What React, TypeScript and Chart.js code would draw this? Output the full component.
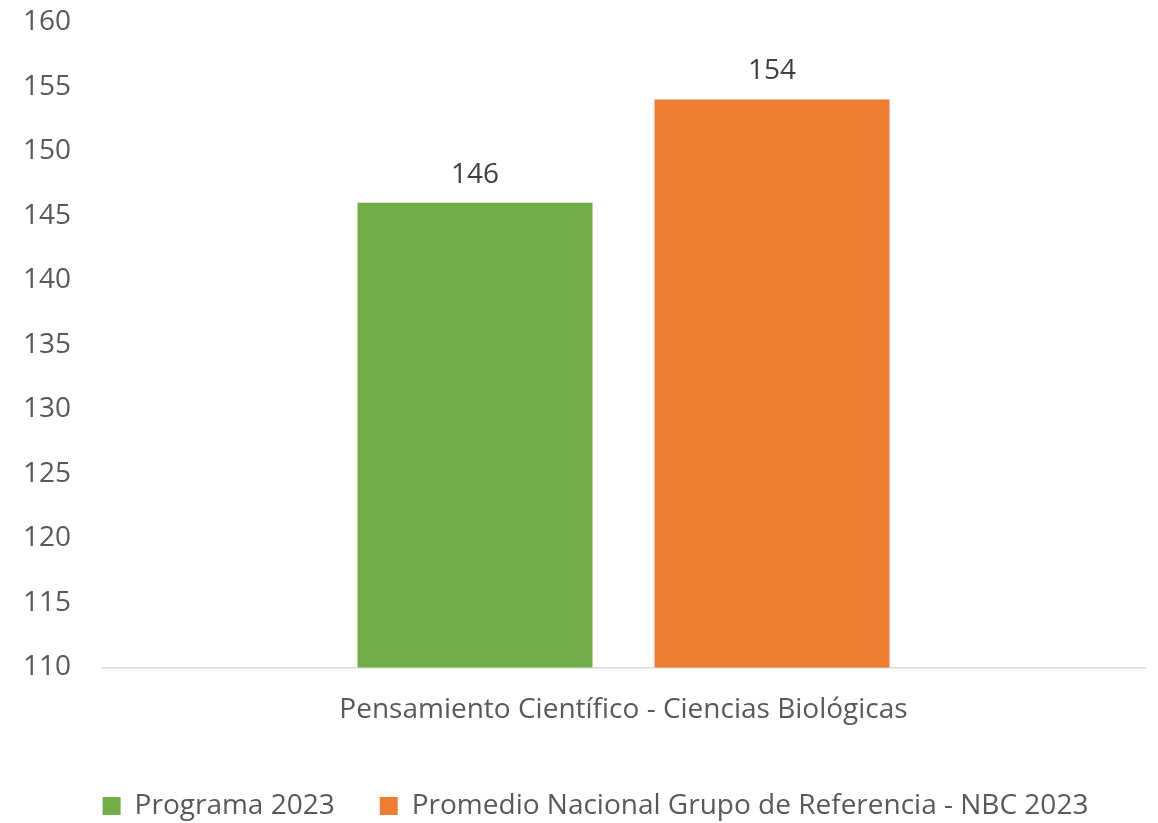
import React, { useEffect, useRef } from "react";
import { Chart, registerables } from "chart.js";

Chart.register(...registerables);

const categories = ["Pensamiento Científico - Ciencias Biológicas"];
const seriesNames = ["Programa 2023", "Promedio Nacional Grupo de Referencia - NBC 2023"];
const programaValues = [146];
const promedioValues = [154];
const seriesColors = ["#70AD47", "#ED7D31"];
const yMin = 110;
const yMax = 160;
const yStep = 5;

const FONT = "'Open Sans', 'Noto Sans', sans-serif";
const FS = 28;
const W = 1158;
const H = 830;

const valueLabels = {
  id: "valueLabels",
  afterDatasetsDraw(chart: any) {
    const ctx = chart.ctx;
    ctx.save();
    ctx.font = `${FS}px ${FONT}`;
    ctx.fillStyle = "#404040";
    ctx.textAlign = "center";
    ctx.textBaseline = "alphabetic";
    chart.data.datasets.forEach((ds: any, di: number) => {
      const meta = chart.getDatasetMeta(di);
      meta.data.forEach((bar: any, i: number) => {
        ctx.fillText(String(ds.data[i]), bar.x, bar.y - 20);
      });
    });
    ctx.restore();
  },
};

const legendShift = {
  id: "legendShift",
  afterLayout(chart: any) {
    const lg = chart.legend;
    if (lg) {
      lg.left += 12;
      lg.right += 12;
    }
  },
};

export default function App() {
  const ref = useRef<HTMLCanvasElement | null>(null);
  useEffect(() => {
    if (!ref.current) return;
    const layoutLeft = 22;
    const chart = new Chart(ref.current, {
      type: "bar",
      data: {
        labels: categories,
        datasets: [
          {
            label: seriesNames[0],
            data: programaValues,
            backgroundColor: seriesColors[0],
            categoryPercentage: 0.5695,
            barPercentage: 0.7912,
          },
          {
            label: seriesNames[1],
            data: promedioValues,
            backgroundColor: seriesColors[1],
            categoryPercentage: 0.5695,
            barPercentage: 0.7912,
          },
        ],
      },
      options: {
        responsive: false,
        animation: false,
        devicePixelRatio: 1,
        layout: { padding: { top: 22, left: layoutLeft, right: 13, bottom: 0 } },
        plugins: {
          tooltip: { enabled: false },
          legend: {
            position: "bottom",
            labels: {
              boxWidth: 18,
              boxHeight: 18,
              padding: 45,
              color: "#595959",
              font: { family: FONT, size: FS },
            },
          },
        },
        scales: {
          x: {
            grid: { display: false, drawTicks: false },
            border: { display: true, color: "#D9D9D9", width: 1.5 },
            ticks: {
              color: "#595959",
              font: { family: FONT, size: FS },
              padding: 26,
            },
            afterFit(scale: any) {
              scale.height -= 6;
            },
          },
          y: {
            min: yMin,
            max: yMax,
            grid: { display: false, drawTicks: true, tickLength: 31 },
            border: { display: false },
            ticks: {
              stepSize: yStep,
              color: "#595959",
              font: { family: FONT, size: FS },
              padding: 0,
            },
            afterFit(scale: any) {
              scale.width = 102 - layoutLeft;
            },
          },
        },
      },
      plugins: [valueLabels, legendShift],
    });
    return () => chart.destroy();
  }, []);
  return (
    <div style={{ position: "absolute", left: 0, top: 0, width: W, height: 823, overflow: "hidden", background: "#ffffff" }}>
      <canvas ref={ref} width={W} height={H} style={{ width: W, height: H, display: "block" }} />
    </div>
  );
}
